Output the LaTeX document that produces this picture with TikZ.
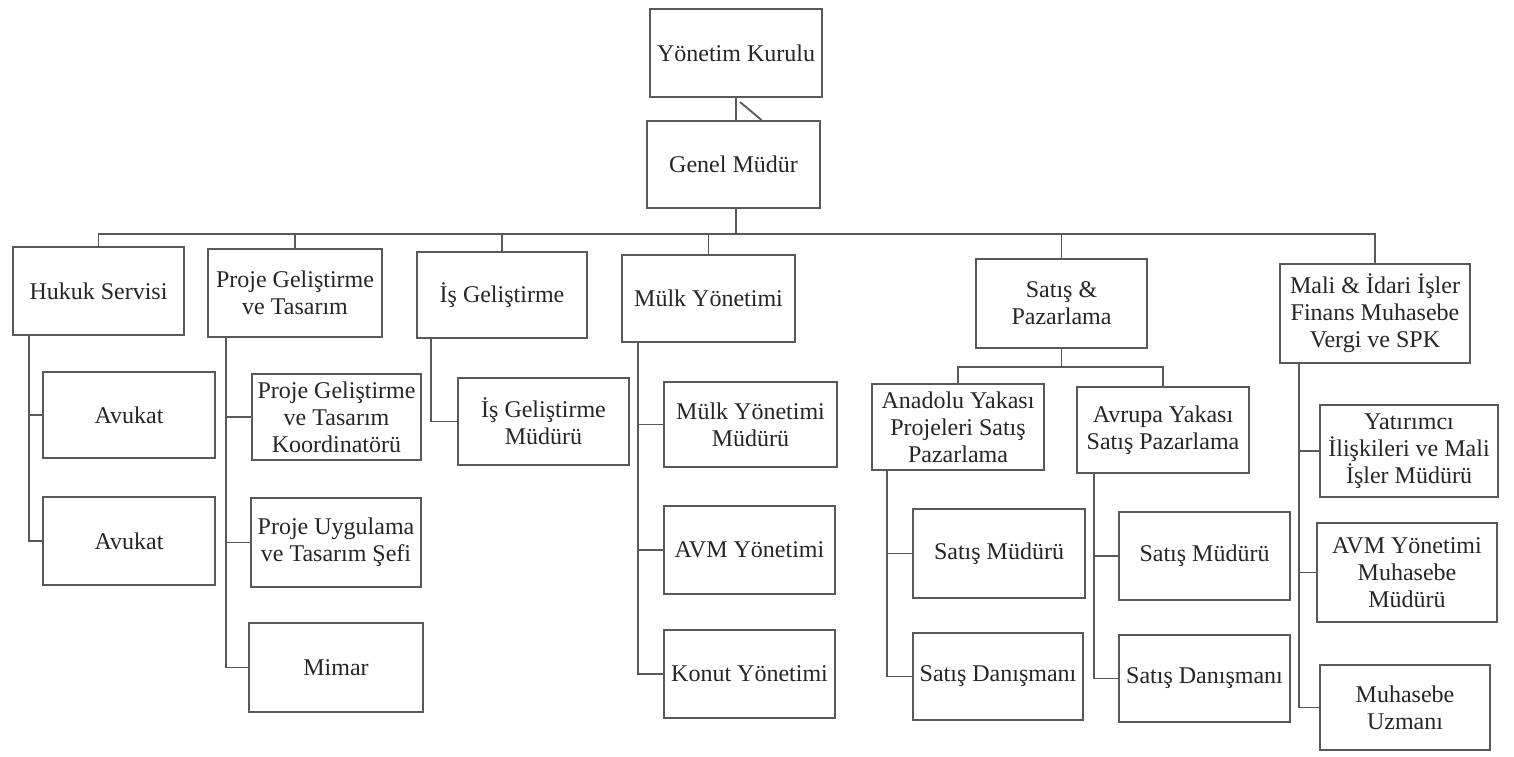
\documentclass[tikz,border=0pt]{standalone}
\usepackage{fontspec}
\setmainfont{Liberation Serif}
\newcommand\bx[6]{%
  \pgfmathsetmacro\bw{(#4-#2)*0.5}%
  \pgfmathsetmacro\bh{(#5-#3)*0.5}%
  \node[box,minimum width=\bw pt,minimum height=\bh pt] (#1) at ({(#2+#4)/2},{(#3+#5)/2}) {#6};}
\begin{document}
\begin{tikzpicture}[x=0.5pt,y=-0.5pt,
  box/.style={draw=black!65,line width=1pt,inner sep=0pt,align=center,
    font=\fontsize{12}{13.5}\selectfont,text=black!85},
  link/.style={draw=black!65,line width=0.9pt}]
\fill[white] (0,0) rectangle (1514,756);
\useasboundingbox (0,0) rectangle (1514,756);
% top
\bx{yk}{650}{9}{822}{97}{Yönetim Kurulu}
\bx{gm}{647}{121}{820}{208}{Genel Müdür}
% level 1
\bx{hukuk}{13}{247}{184}{335}{Hukuk Servisi}
\bx{proje}{208}{249}{382}{337}{Proje Geliştirme\\ve Tasarım}
\bx{is}{417}{252}{587}{338}{İş Geliştirme}
\bx{mulk}{622}{255}{795}{342}{Mülk Yönetimi}
\bx{satis}{976}{259}{1147}{348}{Satış \&\\Pazarlama}
\bx{mali}{1280}{264}{1470}{363}{Mali \& İdari İşler\\Finans Muhasebe\\Vergi ve SPK}
% hukuk children
\bx{av1}{43}{372}{215}{458}{Avukat}
\bx{av2}{43}{497}{215}{585}{Avukat}
% proje children
\bx{pk}{252}{374}{421}{460}{Proje Geliştirme\\ve Tasarım\\Koordinatörü}
\bx{pu}{251}{498}{421}{587}{Proje Uygulama\\ve Tasarım Şefi}
\bx{mimar}{249}{623}{423}{712}{Mimar}
% is children
\bx{ism}{458}{378}{629}{465}{İş Geliştirme\\Müdürü}
% mulk children
\bx{mym}{664}{382}{837}{467}{Mülk Yönetimi\\Müdürü}
\bx{avm}{664}{506}{835}{594}{AVM Yönetimi}
\bx{konut}{664}{630}{835}{718}{Konut Yönetimi}
% satis children
\bx{anadolu}{872}{384}{1044}{470}{Anadolu Yakası\\Projeleri Satış\\Pazarlama}
\bx{avrupa}{1077}{387}{1249}{473}{Avrupa Yakası\\Satış Pazarlama}
\bx{sm1}{913}{509}{1085}{598}{Satış Müdürü}
\bx{sd1}{913}{633}{1083}{720}{Satış Danışmanı}
\bx{sm2}{1119}{512}{1290}{600}{Satış Müdürü}
\bx{sd2}{1119}{635}{1290}{722}{Satış Danışmanı}
% mali children
\bx{yat}{1320}{405}{1498}{497}{Yatırımcı\\İlişkileri ve Mali\\İşler Müdürü}
\bx{avmm}{1317}{523}{1497}{622}{AVM Yönetimi\\Muhasebe\\Müdürü}
\bx{muz}{1320}{665}{1490}{750}{Muhasebe\\Uzmanı}
% connectors top
\draw[link] (gm.north -| yk.south) -- (yk.south);
\draw[link] ([xshift=2pt,yshift=-2pt]yk.south) -- ([xshift=14pt]gm.north);
\coordinate (bus) at (736,234);
\draw[link] (gm.south -| bus) -- (bus);
\draw[link] (hukuk.north) -- (hukuk.north |- bus) -- (mali.north |- bus) -- (mali.north);
\foreach \n in {proje,is,mulk,satis}{\draw[link] (\n.north) -- (\n.north |- bus);}
% hukuk
\coordinate (hk) at ([xshift=8.5pt]hukuk.south west);
\draw[link] (hk) |- (av2.west);
\draw[link] (hk |- av1.west) -- (av1.west);
% proje
\coordinate (pj) at ([xshift=9.5pt]proje.south west);
\draw[link] (pj) |- (mimar.west);
\draw[link] (pj |- pk.west) -- (pk.west);
\draw[link] (pj |- pu.west) -- (pu.west);
% is
\coordinate (ig) at ([xshift=7.5pt]is.south west);
\draw[link] (ig) |- (ism.west);
% mulk
\coordinate (mk) at ([xshift=8.5pt]mulk.south west);
\draw[link] (mk) |- (konut.west);
\draw[link] (mk |- mym.west) -- (mym.west);
\draw[link] (mk |- avm.west) -- (avm.west);
% satis
\coordinate (sb) at ([yshift=-9pt]satis.south);
\draw[link] (satis.south) -- (sb);
\draw[link] (anadolu.north) |- (sb) -| (avrupa.north);
\coordinate (an) at ([xshift=8pt]anadolu.south west);
\draw[link] (an) |- (sd1.west);
\draw[link] (an |- sm1.west) -- (sm1.west);
\coordinate (ar) at ([xshift=9pt]avrupa.south west);
\draw[link] (ar) |- (sd2.west);
\draw[link] (ar |- sm2.west) -- (sm2.west);
% mali
\coordinate (ml) at ([xshift=10pt]mali.south west);
\draw[link] (ml) |- (muz.west);
\draw[link] (ml |- yat.west) -- (yat.west);
\draw[link] (ml |- avmm.west) -- (avmm.west);
\end{tikzpicture}
\end{document}
